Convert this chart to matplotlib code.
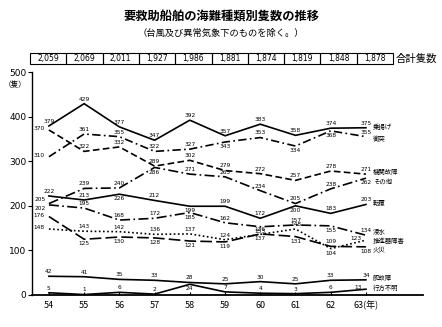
import matplotlib
matplotlib.use("Agg")
import matplotlib.pyplot as plt
from matplotlib.patches import Rectangle

plt.rcParams['font.family'] = ['Noto Sans CJK JP', 'DejaVu Sans']

years = [54, 55, 56, 57, 58, 59, 60, 61, 62, 63]
year_labels = ['54', '55', '56', '57', '58', '59', '60', '61', '62', '63(年)']
totals = ['2,059', '2,069', '2,011', '1,927', '1,986', '1,881', '1,874', '1,819', '1,848', '1,878']

noriage = [379, 429, 377, 347, 392, 357, 383, 358, 374, 375]
shototsu = [310, 361, 355, 322, 327, 343, 353, 334, 368, 355]
kikan = [370, 322, 332, 289, 302, 279, 272, 257, 278, 271]
sonota = [205, 239, 240, 286, 271, 265, 234, 205, 238, 262]
tenpuku = [222, 213, 226, 212, 199, 199, 172, 200, 183, 203]
shinsui = [202, 195, 168, 172, 185, 162, 153, 157, 155, 134]
suishinki = [148, 143, 142, 136, 137, 124, 136, 148, 104, 123]
kasai = [176, 125, 130, 128, 121, 119, 137, 131, 109, 108]
kaji = [42, 41, 35, 33, 28, 25, 30, 25, 33, 34]
fumei = [5, 1, 6, 2, 24, 7, 4, 3, 6, 13]

names = ['乗揚げ', '衝突', '機関故障', 'その他', '転覆', '浸水', '推進器障害', '火災', '舵故障', '行方不明']
series = [noriage, shototsu, kikan, sonota, tenpuku, shinsui, suishinki, kasai, kaji, fumei]

# styles / layout (not data)
dashes = [None, (5, 2, 1, 2), (4, 2), (6, 2, 1, 2), None, (6, 2, 1, 2), (1, 1.5), (7, 2.5), None, None]
placement = ['aaaaaaaaaa', 'laaaababba', 'laaaaaaaaa', 'uaabaaaaab',
             'aababaabaa', 'daaabababa', 'laaaaaaabl', 'lbbbbbbbab',
             'aaaaaaaaaa', 'aaaabaaaal']
name_y = [377, 350, 276, 253, 206, 141, 121, 101, 38, 16]

fig = plt.figure(figsize=(4.42, 3.27), dpi=100)
W, H = 442, 327
ax = fig.add_axes([32 / W, 1 - 295 / H, (423 - 32) / W, (295 - 72) / H])
ax.set_xlim(53.52, 64.62)
ax.set_ylim(0, 500)

for vals, d, pl in zip(series, dashes, placement):
    line, = ax.plot(years, vals, color='black', lw=1.2)
    if d is not None:
        line.set_dashes(d)
    for x, v, p in zip(years, vals, pl):
        if p == 'a':
            off, ha, va = (0, 1.5), 'center', 'bottom'
        elif p == 'b':
            off, ha, va = (0, -1.5), 'center', 'top'
        elif p == 'u':
            off, ha, va = (-2, 1), 'right', 'bottom'
        elif p == 'd':
            off, ha, va = (-2, -1), 'right', 'top'
        else:
            off, ha, va = (-3, 1), 'right', 'center'
        ax.annotate(str(v), (x, v), xytext=off, textcoords='offset points',
                    ha=ha, va=va, fontsize=4.2, family='DejaVu Sans')

for nm, yv in zip(names, name_y):
    ax.text(63.2, yv, nm, fontsize=4.6, ha='left', va='center')

for s in ['top', 'right']:
    ax.spines[s].set_visible(False)
ax.spines['bottom'].set_linewidth(1.3)
ax.spines['left'].set_linewidth(1.0)
ax.set_xticks(years)
ax.set_xticklabels(year_labels, fontsize=6.5)
ax.tick_params(axis='x', direction='in', length=2.5, pad=4)
ax.set_yticks([0, 100, 200, 300, 400, 500])
ax.set_yticklabels(['0', '100', '200', '300', '400', '500'], fontsize=6.5, family='DejaVu Sans')
ax.tick_params(axis='y', direction='out', length=3, pad=1)
ax.text(-0.015, 0.94, '（隻）', transform=ax.transAxes, ha='right', va='center', fontsize=5.5)

fig.text(0.5, 1 - 17 / H, '要救助船舶の海難種類別隻数の推移', ha='center', va='center',
         fontsize=8.8, fontweight='bold')
fig.text(0.5, 1 - 33 / H, '（台風及び異常気象下のものを除く。）', ha='center', va='center', fontsize=6.7)

bx0, bw = 30, 36.3
by0, by1 = 53, 64
for i, t in enumerate(totals):
    fig.patches.append(Rectangle(((bx0 + i * bw) / W, 1 - by1 / H), bw / W, (by1 - by0) / H,
                                 transform=fig.transFigure, fill=False, lw=0.8, ec='black'))
    fig.text((bx0 + (i + 0.5) * bw) / W, 1 - (by0 + by1) / 2 / H, t, ha='center', va='center',
             fontsize=5.5, family='DejaVu Sans')
fig.text(396 / W, 1 - (by0 + by1) / 2 / H, '合計隻数', ha='left', va='center', fontsize=7.5)

fig.savefig('out.png', dpi=100)
